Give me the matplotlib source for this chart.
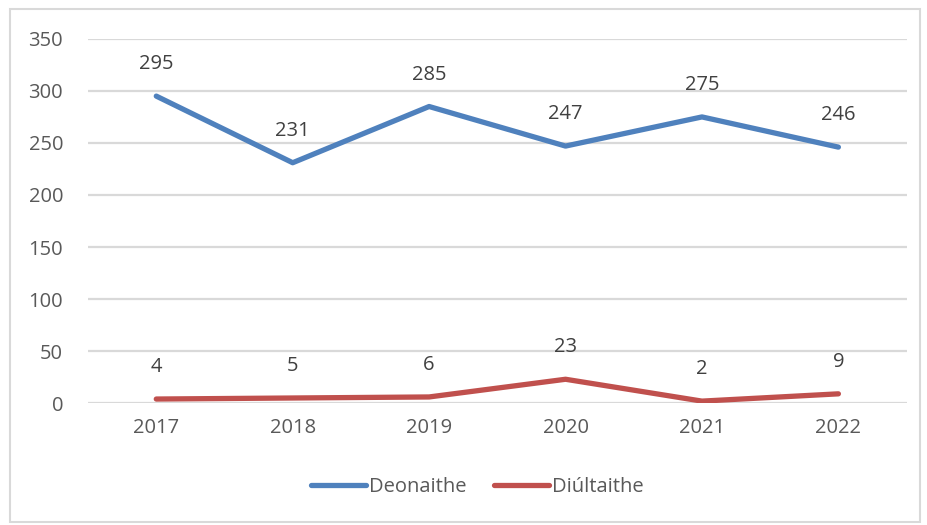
import matplotlib.pyplot as plt
from matplotlib.patches import Rectangle

years = ['2017', '2018', '2019', '2020', '2021', '2022']
deonaithe = [295, 231, 285, 247, 275, 246]
diultaithe = [4, 5, 6, 23, 2, 9]
yticks = [0, 50, 100, 150, 200, 250, 300, 350]

plt.rcParams['font.family'] = ['Open Sans', 'DejaVu Sans']
txt = '#595959'
fs = 14.5

fig = plt.figure(figsize=(9.27, 5.25), dpi=100)
ax = fig.add_axes([0.095, 0.232, 0.883, 0.694])

# Chart border
fig.patches.append(Rectangle((10 / 927, 3 / 525), 910 / 927, 513 / 525,
                             transform=fig.transFigure, fill=False,
                             edgecolor='#D9D9D9', linewidth=1.5))

x = range(len(years))
ax.plot(x, deonaithe, color='#4F81BD', linewidth=3.8, solid_capstyle='round', label='Deonaithe')
ax.plot(x, diultaithe, color='#C0504D', linewidth=3.8, solid_capstyle='round', label='Diúltaithe')

for i, v in enumerate(deonaithe):
    ax.annotate(str(v), (i, v), xytext=(0, 23), textcoords='offset points',
                ha='center', va='center', fontsize=fs, color='#404040')
for i, v in enumerate(diultaithe):
    ax.annotate(str(v), (i, v), xytext=(0, 23), textcoords='offset points',
                ha='center', va='center', fontsize=fs, color='#404040')

ax.set_xlim(-0.5, len(years) - 0.5)
ax.set_ylim(0, 350)
ax.set_yticks(yticks)
ax.set_xticks(list(x))
ax.set_xticklabels(years)
ax.tick_params(axis='both', length=0, labelsize=fs, labelcolor=txt)
ax.tick_params(axis='y', pad=18)
ax.tick_params(axis='x', pad=11)
ax.grid(axis='y', color='#D9D9D9', linewidth=1.6)
ax.set_axisbelow(True)
for s in ax.spines.values():
    s.set_visible(False)

leg = fig.legend(loc='center', bbox_to_anchor=(0.515, 0.072), ncol=2, frameon=False,
                 fontsize=fs, handlelength=2.7, handletextpad=0.15, columnspacing=1.4)
for t in leg.get_texts():
    t.set_color(txt)

fig.savefig('out.png', dpi=100)
